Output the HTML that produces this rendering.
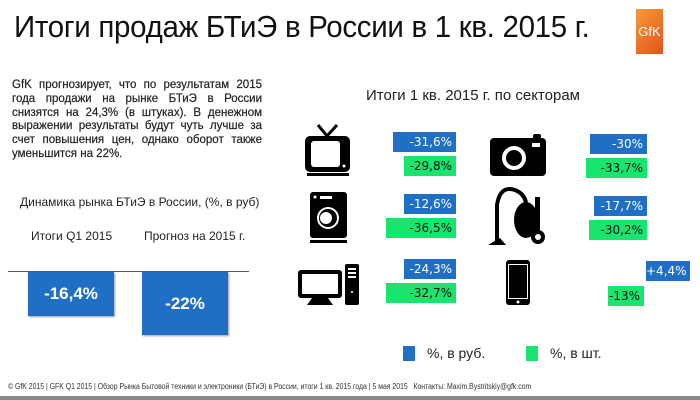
<!DOCTYPE html>
<html><head><meta charset="utf-8"><style>
body{margin:0;width:700px;height:400px;background:#fff;position:relative;overflow:hidden;font-family:"Liberation Sans",sans-serif;color:#111}
.a{position:absolute}
.b{position:absolute;background:#1f6fc5;color:#fff;text-align:right;font-size:12px;line-height:20px;padding-right:4px;box-sizing:border-box;font-family:"DejaVu Sans",sans-serif}
.g{position:absolute;background:#17e56e;color:#111;text-align:right;font-size:12px;line-height:20px;padding-right:4px;box-sizing:border-box;font-family:"DejaVu Sans",sans-serif}
</style></head><body>
<div class="a" style="left:14px;top:9px;font-size:31px;letter-spacing:-0.3px;transform:scaleX(0.95);transform-origin:left">Итоги продаж БТиЭ в России в 1 кв. 2015 г.</div>
<div class="a" style="left:636px;top:9px;width:27px;height:45px;background:linear-gradient(135deg,#f59a3a,#e2541b);color:#fff;font-size:13px;line-height:45px;text-align:center">GfK</div>

<div class="a" style="left:12px;top:79px;width:250px;font-size:11.5px;line-height:13.8px;text-align:justify;color:#222;-webkit-text-stroke:0.2px #222">GfK прогнозирует, что по результатам 2015 года продажи на рынке БТиЭ в России снизятся на 24,3% (в штуках). В денежном выражении результаты будут чуть лучше за счет повышения цен, однако оборот также уменьшится на 22%.</div>

<div class="a" style="left:20px;top:195px;font-size:12px;color:#222">Динамика рынка БТиЭ в России, (%, в руб)</div>
<div class="a" style="left:31px;top:229px;font-size:12px;color:#222">Итоги Q1 2015</div>
<div class="a" style="left:144px;top:229px;font-size:12px;color:#222">Прогноз на 2015 г.</div>
<div class="a" style="left:8px;top:271px;width:241px;height:1px;background:#555"></div>
<div class="a" style="left:28px;top:272px;width:86px;height:44px;background:#1f6fc5;color:#fff;font-size:17px;font-weight:bold;text-align:center;line-height:44px;box-shadow:1px 1px 2px #999">-16,4%</div>
<div class="a" style="left:142px;top:272px;width:86px;height:63px;background:#1f6fc5;color:#fff;font-size:17px;font-weight:bold;text-align:center;line-height:63px;box-shadow:1px 1px 2px #999">-22%</div>

<div class="a" style="left:366px;top:87px;font-size:15px;color:#222">Итоги 1 кв. 2015 г. по секторам</div>

<div class="b" style="left:393px;top:132px;width:63px">-31,6%</div>
<div class="g" style="left:404px;top:156px;width:52px">-29,8%</div>
<div class="b" style="left:590px;top:134px;width:57px">-30%</div>
<div class="g" style="left:586px;top:158px;width:61px">-33,7%</div>
<div class="b" style="left:404px;top:194px;width:52px">-12,6%</div>
<div class="g" style="left:386px;top:218px;width:70px">-36,5%</div>
<div class="b" style="left:594px;top:196px;width:53px">-17,7%</div>
<div class="g" style="left:589px;top:220px;width:58px">-30,2%</div>
<div class="b" style="left:404px;top:259px;width:52px">-24,3%</div>
<div class="g" style="left:386px;top:283px;width:70px">-32,7%</div>
<div class="b" style="left:646px;top:261px;width:44px">+4,4%</div>
<div class="g" style="left:608px;top:286px;width:36px">-13%</div>

<svg class="a" style="left:0;top:0" width="700" height="400">
<path d="M318 125 L327 136 L337 125" stroke="#000" stroke-width="3" fill="none"/>
<rect x="305" y="136" width="45" height="36" rx="5" fill="#000"/>
<rect x="311" y="141" width="29" height="26" rx="3" fill="#fff"/>
<circle cx="344" cy="166" r="1.5" fill="#fff"/>
<rect x="307" y="173" width="42" height="3" fill="#000"/>
<rect x="490" y="138" width="56" height="38" rx="4" fill="#000"/>
<rect x="533" y="134" width="8" height="5" rx="2" fill="#000"/>
<circle cx="514" cy="158" r="12" fill="#fff"/><circle cx="514" cy="158" r="8" fill="#000"/>
<rect x="532" y="143" width="8" height="4" fill="#fff"/>
<rect x="310" y="192" width="37" height="46" rx="3" fill="#000"/>
<rect x="310" y="240" width="37" height="3" fill="#000"/>
<rect x="320" y="196" width="12" height="3" fill="#fff"/>
<circle cx="315" cy="197" r="1.5" fill="#fff"/>
<circle cx="328" cy="218" r="11" fill="#fff"/><circle cx="328" cy="218" r="9" fill="#000"/><circle cx="326" cy="218" r="6" fill="#fff"/>
<path d="M497 243 L497 205 Q500 185 515 190 Q530 196 525 215" stroke="#000" stroke-width="4" fill="none"/>
<path d="M488 245 L506 245 L500 238 Z" fill="#000"/>
<ellipse cx="526" cy="220" rx="12" ry="18" fill="#000"/>
<rect x="535" y="197" width="5" height="36" fill="#000"/>
<circle cx="538" cy="237" r="7" fill="#000"/><circle cx="538" cy="237" r="3" fill="#fff"/>
<rect x="298" y="270" width="44" height="28" rx="3" fill="#000"/>
<rect x="302" y="274" width="36" height="20" fill="#fff"/>
<path d="M312 298 L328 298 L333 305 L307 305 Z" fill="#000"/>
<rect x="345" y="264" width="14" height="41" rx="2" fill="#000"/>
<rect x="348" y="268" width="8" height="2" fill="#fff"/><rect x="348" y="272" width="8" height="2" fill="#fff"/><rect x="348" y="276" width="8" height="2" fill="#fff"/>
<circle cx="352" cy="292" r="1" fill="#fff"/>
<rect x="506" y="260" width="24" height="45" rx="3" fill="#000"/>
<rect x="508" y="264" width="20" height="35" fill="#fff"/><rect x="509" y="265" width="18" height="33" fill="#000"/>
<circle cx="518" cy="302" r="1.5" fill="#fff"/>
<rect x="403" y="346" width="12" height="15" fill="#1f6fc5"/>
<rect x="526" y="346" width="12" height="15" fill="#17e56e"/>
<rect x="0" y="396" width="700" height="4" fill="#888"/>
</svg>
<div class="a" style="left:427px;top:345px;font-size:14px;color:#222">%, в руб.</div>
<div class="a" style="left:550px;top:345px;font-size:14px;color:#222">%, в шт.</div>
<div class="a" style="left:8px;top:382px;font-size:8px;color:#333;white-space:nowrap;transform:scaleX(0.86);transform-origin:left">© GfK 2015 | GFK Q1 2015 | Обзор Рынка Бытовой техники и электроники (БТиЭ) в России, итоги 1 кв. 2015 года | 5 мая 2015 &nbsp;&nbsp;Контакты: Maxim.Bystritskiy@gfk.com</div>
</body></html>
